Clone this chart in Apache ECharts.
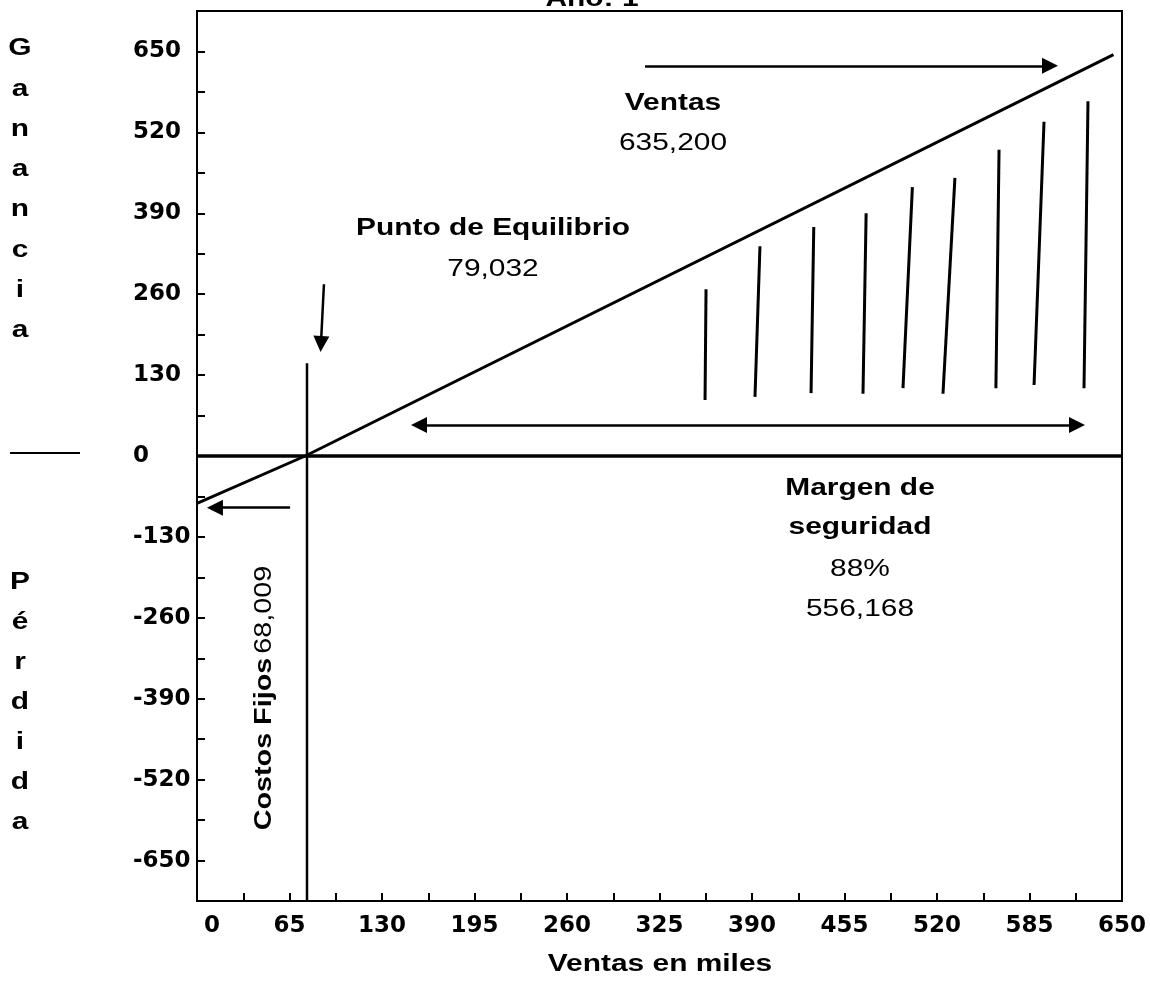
<!DOCTYPE html>
<html>
<head>
<meta charset="utf-8">
<script src="https://cdn.jsdelivr.net/npm/echarts@6/dist/echarts.min.js"></script>
<style>
html,body{margin:0;padding:0;background:#fff;}
#chart{width:1150px;height:981px;}
</style>
</head>
<body>
<div id="chart"></div>
<script>
// ---- data (values in thousands) ----
const xTickLabels = [0, 65, 130, 195, 260, 325, 390, 455, 520, 585, 650];
const yTickLabels = [-650, -520, -390, -260, -130, 0, 130, 260, 390, 520, 650];
const salesLine = [[0, -76], [76, 0], [644, 645]];
const breakEvenLine = [[77.3, 149], [77.3, -715]];
const zeroLine = [[0, 0], [650, 0]];
const hatchLines = [
  [[357.0, 90], [357.7, 268]],
  [[392.1, 95], [395.6, 337]],
  [[431.5, 101], [433.4, 368]],
  [[468.0, 100], [470.2, 390]],
  [[496.1, 109], [502.7, 432]],
  [[524.2, 100], [532.6, 447]],
  [[561.4, 109], [563.6, 492]],
  [[588.2, 114], [595.2, 537]],
  [[623.3, 109], [626.1, 570]]
];
const arrowSales = [[314.8, 627], [599.4, 627]];
const arrowBreakEven = [[89.2, 276], [87.1, 180]];
const arrowFixedCost = [[65.4, -83], [12.6, -83]];
const arrowMargin = [[156.0, 50], [618.4, 50]];

const chart = echarts.init(document.getElementById('chart'));
const AF = 'DejaVu Sans';
const TF = '"Liberation Sans", Arial, sans-serif';
const SX = 1.3;
const txt = (text, x, y, bold, extraStyle) => ({
  type: 'text', x: x, y: y, scaleX: SX,
  style: Object.assign({ text: text, fill: '#000', font: (bold ? 'bold ' : '') + '23px ' + TF, align: 'center', verticalAlign: 'middle' }, extraStyle || {})
});

const blackLine = (data, w) => ({
  type: 'line', data: data, showSymbol: false, symbol: 'none', silent: true,
  lineStyle: { color: '#000', width: w }, z: 3
});
const arrowSeries = (coords, symbols) => ({
  type: 'lines', coordinateSystem: 'cartesian2d', silent: true,
  symbol: symbols, symbolSize: 16,
  lineStyle: { color: '#000', width: 2.5, opacity: 1 },
  itemStyle: { color: '#000' },
  data: [{ coords: coords }], z: 4
});

chart.setOption({
  animation: false,
  backgroundColor: '#fff',
  grid: { left: 197, right: 28, top: 11, bottom: 80, show: true, borderColor: '#000', borderWidth: 2, backgroundColor: 'transparent' },
  xAxis: {
    type: 'value', min: 0, max: 650, interval: 32.5,
    axisLine: { show: true, onZero: false, lineStyle: { color: '#000', width: 2 } },
    axisTick: { show: true, inside: true, length: 8, lineStyle: { color: '#000', width: 2 } },
    splitLine: { show: false },
    axisLabel: {
      margin: 14, color: '#000', fontFamily: AF, fontWeight: 'bold', fontSize: 23,
      formatter: v => {
        const r = Math.round(v);
        if (Math.abs(v - r) > 1e-6 || xTickLabels.indexOf(r) < 0) return '';
        return r === 0 ? '{z|0}' : String(r);
      },
      rich: { z: { padding: [0, 0, 0, 30], color: '#000', fontFamily: AF, fontWeight: 'bold', fontSize: 23 } }
    }
  },
  yAxis: {
    type: 'value', min: -715, max: 715, interval: 65,
    axisLine: { show: true, onZero: false, lineStyle: { color: '#000', width: 2 } },
    axisTick: { show: true, inside: true, length: 8, lineStyle: { color: '#000', width: 2 } },
    splitLine: { show: false },
    axisLabel: {
      margin: 64, align: 'left', color: '#000', fontFamily: AF, fontWeight: 'bold', fontSize: 23,
      formatter: v => (yTickLabels.indexOf(Math.round(v)) >= 0 ? String(Math.round(v)) : '')
    }
  },
  series: [
    blackLine(zeroLine, 3.5),
    blackLine(salesLine, 3),
    blackLine(breakEvenLine, 2.5),
    {
      type: 'lines', coordinateSystem: 'cartesian2d', silent: true,
      lineStyle: { color: '#000', width: 3, opacity: 1 },
      data: hatchLines.map(c => ({ coords: c })), z: 3
    },
    arrowSeries(arrowSales, ['none', 'triangle']),
    arrowSeries(arrowBreakEven, ['none', 'triangle']),
    arrowSeries(arrowFixedCost, ['none', 'triangle']),
    arrowSeries(arrowMargin, ['triangle', 'triangle'])
  ],
  graphic: [
    txt('Año: 1', 592, 0, true),
    txt('G\na\nn\na\nn\nc\ni\na', 20, 190, true, { lineHeight: 40.3 }),
    txt('P\né\nr\nd\ni\nd\na', 20, 703, true, { lineHeight: 40 }),
    { type: 'line', shape: { x1: 10, y1: 453, x2: 80, y2: 453 }, style: { stroke: '#000', lineWidth: 2 } },
    txt('Ventas', 673, 104, true),
    txt('635,200', 673, 144, false),
    txt('Punto de Equilibrio', 493, 229, true),
    txt('79,032', 493, 270, false),
    txt('Margen de', 860, 489, true),
    txt('seguridad', 860, 528, true),
    txt('88%', 860, 570, false),
    txt('556,168', 860, 610, false),
    txt('Ventas en miles', 660, 965, true),
    {
      type: 'text', x: 265, y: 698, rotation: Math.PI / 2, scaleX: 1.25,
      style: {
        text: '{b|Costos Fijos} {r|68,009}', align: 'center', verticalAlign: 'middle',
        rich: {
          b: { font: 'bold 23px ' + TF, fill: '#000' },
          r: { font: '23px ' + TF, fill: '#000' }
        }
      }
    }
  ]
});
</script>
</body>
</html>
